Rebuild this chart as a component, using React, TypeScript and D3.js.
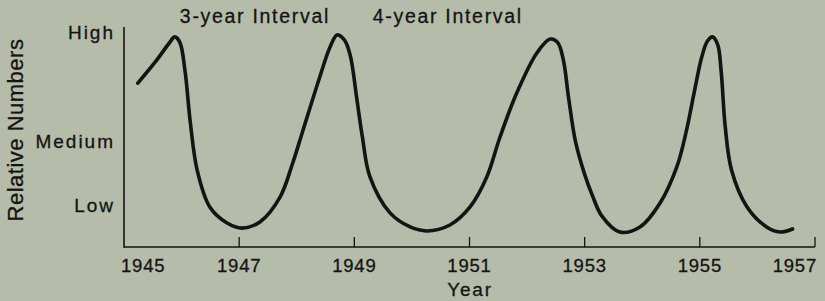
import React from 'react';
import * as d3 from 'd3';

// curve: year vs relative level (0 = bottom axis, 100 = top)
const years = [
  1945.24, 1945.54, 1945.78, 1945.88, 1945.97, 1946.06, 1946.15, 1946.27, 1946.49, 1946.79,
  1947.05, 1947.36, 1947.71, 1947.93, 1948.11, 1948.4, 1948.58, 1948.7, 1948.83, 1948.93,
  1949.04, 1949.14, 1949.27, 1949.62, 1949.97, 1950.26, 1950.66, 1951.01, 1951.3, 1951.53,
  1951.82, 1952.17, 1952.4, 1952.53, 1952.63, 1952.72, 1952.84, 1953.0, 1953.14, 1953.3,
  1953.61, 1953.96, 1954.31, 1954.6, 1954.77, 1954.9, 1955.03, 1955.13, 1955.22, 1955.31,
  1955.37, 1955.44, 1955.55, 1955.82, 1956.16, 1956.39, 1956.61,
];
const levels = [
  74.5, 84, 92.5, 95.5, 93, 80, 57, 35, 18.2, 10.9,
  8.6, 11.4, 22.7, 38.2, 53.2, 77.3, 91, 96.4, 94, 87,
  68, 50, 32, 15.5, 9.1, 7.3, 10, 18.2, 31.8, 50,
  70, 88.2, 94.5, 93, 85, 68, 48, 33, 23, 14,
  6.8, 9.1, 20, 36.4, 53.2, 70, 86, 93.5, 95.5, 92,
  80, 55, 35, 18.2, 9.1, 6.8, 8.2,
];

const tickYears = [1945, 1947, 1949, 1951, 1953, 1955, 1957];
const levelNames = ['High', 'Medium', 'Low'];
const levelValues = [97.5, 48, 19];
const notes = ['3-year Interval', '4-year Interval'];
const noteYears = [1945.97, 1949.32];

const W = 825;
const H = 301;
const ink = '#141414';
const font = '"Liberation Sans", Arial, Helvetica, sans-serif';

export default function App() {
  const x = d3.scaleLinear().domain([1945, 1957]).range([124, 815]);
  const y = d3.scaleLinear().domain([0, 100]).range([247, 27]);

  const pts: [number, number][] = years.map((yr, i) => [yr, levels[i]]);
  const line = d3
    .line<[number, number]>()
    .x(d => x(d[0]))
    .y(d => y(d[1]))
    .curve(d3.curveCatmullRom.alpha(0.5));

  return (
    <svg
      width={W}
      height={H}
      style={{ position: 'absolute', left: 0, top: 0, background: '#b6bcaa' }}
      fontFamily={font}
      fill={ink}
    >
      <rect width={W} height={H} fill="#b6bcaa" />

      {/* axes */}
      <line x1={x(1945)} x2={x(1945)} y1={y(100)} y2={y(0) + 0.75} stroke={ink} strokeWidth={1.6} />
      <line x1={x(1945)} x2={x(1957)} y1={y(0)} y2={y(0)} stroke={ink} strokeWidth={1.6} />
      {tickYears.slice(1).map(t => (
        <line key={t} x1={x(t)} x2={x(t)} y1={y(0)} y2={y(0) - 10} stroke={ink} strokeWidth={1.3} />
      ))}

      {/* x tick labels */}
      {tickYears.map((t, i) => {
        const first = i === 0;
        const last = i === tickYears.length - 1;
        return (
          <text
            key={t}
            x={first ? x(t) - 3 : last ? x(t) + 2 : x(t)}
            y={272}
            textAnchor={first ? 'start' : last ? 'end' : 'middle'}
            fontSize={18.5}
            letterSpacing={0.8}
            stroke={ink}
            strokeWidth={0.3}
          >
            {t}
          </text>
        );
      })}
      <text x={470} y={296} textAnchor="middle" fontSize={19} letterSpacing={1.8} stroke={ink} strokeWidth={0.3}>
        Year
      </text>

      {/* y level labels */}
      {levelNames.map((name, i) => (
        <text
          key={name}
          x={115}
          y={y(levelValues[i])}
          dy="0.36em"
          textAnchor="end"
          fontSize={19}
          letterSpacing={2}
          stroke={ink}
          strokeWidth={0.3}
        >
          {name}
        </text>
      ))}
      <text
        transform={`translate(23,130) rotate(-90)`}
        textAnchor="middle"
        fontSize={22}
        letterSpacing={0.5}
        stroke={ink}
        strokeWidth={0.3}
      >
        Relative Numbers
      </text>

      {/* interval notes */}
      {notes.map((n, i) => (
        <text key={n} x={x(noteYears[i])} y={23} fontSize={19.5} letterSpacing={1.7} stroke={ink} strokeWidth={0.3}>
          {n}
        </text>
      ))}

      <path d={line(pts) ?? ''} fill="none" stroke={ink} strokeWidth={3.6} strokeLinecap="round" strokeLinejoin="round" />
    </svg>
  );
}
